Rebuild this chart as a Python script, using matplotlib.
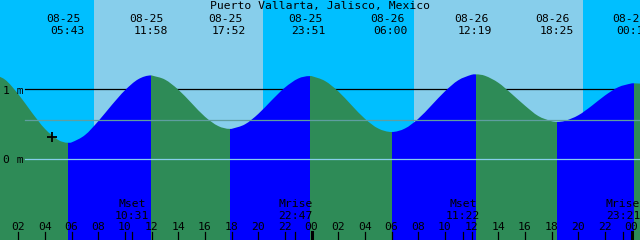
import numpy as np
import matplotlib
matplotlib.use("Agg")
import matplotlib.pyplot as plt
from matplotlib.path import Path
from matplotlib.patches import PathPatch
from matplotlib.transforms import blended_transform_factory

title = "Puerto Vallarta, Jalisco, Mexico"

# water level (m), one value per hour from 08-25 00:00
hours = list(range(0, 50))
heights = [1.22, 1.14, 0.93, 0.67, 0.43, 0.27, 0.235, 0.34, 0.54, 0.77,
           0.985, 1.145, 1.20, 1.14, 0.995, 0.80, 0.605, 0.47, 0.43, 0.495,
           0.645, 0.84, 1.025, 1.155, 1.19, 1.12, 0.97, 0.77, 0.575, 0.435,
           0.385, 0.435, 0.575, 0.77, 0.97, 1.13, 1.21, 1.195, 1.095, 0.935,
           0.765, 0.615, 0.54, 0.545, 0.625, 0.76, 0.91, 1.03, 1.085, 1.075]

# high / low tides shown along the top
tide_dates = ["08-25", "08-25", "08-25", "08-25", "08-26", "08-26", "08-26", "08-27"]
tide_times = ["05:43", "11:58", "17:52", "23:51", "06:00", "12:19", "18:25", "00:13"]
tide_heights = [0.23, 1.20, 0.43, 1.19, 0.385, 1.215, 0.53, 1.086]

# sun and moon
sun_dates = ["08-25", "08-25", "08-26", "08-26"]
sun_times = ["07:41", "20:21", "07:41", "20:21"]
moon_labels = ["Mset", "Mrise", "Mset", "Mrise"]
moon_dates = ["08-25", "08-25", "08-26", "08-26"]
moon_times = ["10:31", "22:47", "11:22", "23:21"]

depth_labels = ["1 m", "0 m"]
depth_levels = [1.0, 0.0]
mean_level = 0.553
now_time, now_height = 4.53, 0.317

NIGHT, DAY = "#00bfff", "#87ceeb"
RISE, FALL = "#0000ff", "#2e8b57"

W, H = 640, 240
PX_PER_H = 40 / 3
T0 = 0.63
Y0, PX_PER_M = 158.7, 69.4


def to_hours(d, t):
    day = int(d.split("-")[1]) - 25
    hh, mm = t.split(":")
    return day * 24 + int(hh) + int(mm) / 60


def t_px(x):
    return T0 + x / PX_PER_H


def fy(y):
    # pixel row -> axes fraction
    return 1 - y / H


tide_h = [to_hours(d, t) for d, t in zip(tide_dates, tide_times)]
sun_h = [to_hours(d, t) for d, t in zip(sun_dates, sun_times)]
moon_h = [to_hours(d, t) for d, t in zip(moon_dates, moon_times)]

# curve points: hourly readings plus the extremes (extremes win on ties)
pts = {}
for x, y in zip(hours, heights):
    pts[round(x, 3)] = (y, False)
for x, y in zip(tide_h, tide_heights):
    pts[round(x, 3)] = (y, True)
cx = sorted(pts)
cy = [pts[x][0] for x in cx]
is_ext = [pts[x][1] for x in cx]


def water_path(xs, ys, ext, bottom):
    # smooth Hermite/Bezier path through the read points, closed at the bottom
    n = len(xs)
    slopes = []
    for i in range(n):
        if ext[i]:
            slopes.append(0.0)
        elif i == 0:
            slopes.append((ys[1] - ys[0]) / (xs[1] - xs[0]))
        elif i == n - 1:
            slopes.append((ys[-1] - ys[-2]) / (xs[-1] - xs[-2]))
        else:
            slopes.append((ys[i + 1] - ys[i - 1]) / (xs[i + 1] - xs[i - 1]))
    verts = [(xs[0], bottom), (xs[0], ys[0])]
    codes = [Path.MOVETO, Path.LINETO]
    for i in range(n - 1):
        dx = (xs[i + 1] - xs[i]) / 3
        verts += [(xs[i] + dx, ys[i] + slopes[i] * dx),
                  (xs[i + 1] - dx, ys[i + 1] - slopes[i + 1] * dx),
                  (xs[i + 1], ys[i + 1])]
        codes += [Path.CURVE4] * 3
    verts += [(xs[-1], bottom), (xs[0], bottom)]
    codes += [Path.LINETO, Path.CLOSEPOLY]
    return Path(verts, codes)


fig = plt.figure(figsize=(W / 100, H / 100), dpi=100)
ax = fig.add_axes([0, 0, 1, 1])
ax.set_axis_off()
xmin, xmax = T0, t_px(W)
ax.set_xlim(xmin, xmax)
ax.set_ylim((Y0 - H) / PX_PER_M, Y0 / PX_PER_M)
bt = blended_transform_factory(ax.transData, ax.transAxes)

# day / night background
edges = [xmin] + sun_h + [xmax]
for i in range(len(edges) - 1):
    ax.axvspan(edges[i], edges[i + 1], color=NIGHT if i % 2 == 0 else DAY,
               lw=0, zorder=0)

# 1 m line sits behind the water
ax.plot([t_px(25), xmax], [1.0, 1.0], color="black", lw=0.9, zorder=1)

# water body, coloured by rising / falling
clip = water_path(cx, cy, is_ext, -5)
ax.add_patch(PathPatch(clip, facecolor="none", edgecolor="none", zorder=2))
bounds = [xmin] + tide_h + [xmax]
for i in range(len(bounds) - 1):
    rising = i < len(tide_heights) and tide_heights[i] > 1.0
    span = ax.axvspan(bounds[i], bounds[i + 1], color=RISE if rising else FALL,
                      lw=0, zorder=2)
    span.set_clip_path(clip, ax.transData)

# datum and mean lines on top
ax.plot([t_px(25), xmax], [mean_level] * 2, color="#5f9ea0", lw=0.9, zorder=3)
ax.plot([t_px(25), xmax], [0.0, 0.0], color="#87ceeb", lw=0.9, zorder=3)

font = dict(family="DejaVu Sans Mono", size=8.2, color="black", zorder=5)

for lab, lev in zip(depth_labels, depth_levels):
    ypx = Y0 - lev * PX_PER_M + 4.2
    ax.text(t_px(23.5), fy(ypx), lab, ha="right", va="baseline",
            transform=bt, **font)

ax.text(0.5, fy(9.3), title, ha="center", va="baseline",
        transform=ax.transAxes, **font)

for d, tm, th in zip(tide_dates, tide_times, tide_h):
    ax.text(th - 4.6 / PX_PER_H, fy(21.7), d, ha="center", va="baseline",
            transform=bt, **font)
    ax.text(th - 0.8 / PX_PER_H, fy(34), tm, ha="center", va="baseline",
            transform=bt, **font)

for lab, tm, mh in zip(moon_labels, moon_times, moon_h):
    ax.text(mh, fy(206.7), lab, ha="center", va="baseline", transform=bt, **font)
    ax.text(mh, fy(219), tm, ha="center", va="baseline", transform=bt, **font)
    ax.plot([mh, mh], [fy(232), fy(240)], color="black", lw=0.9,
            transform=bt, zorder=5)

# hour ticks every two hours
for hr in range(2, 50, 2):
    if hr < xmin or hr > xmax:
        continue
    ax.text(hr, fy(230), "%02d" % (hr % 24), ha="center", va="baseline",
            transform=bt, **font)
    ax.plot([hr, hr], [fy(232), fy(240)], color="black",
            lw=2.2 if hr % 24 == 0 else 0.9, transform=bt, zorder=5)

ax.plot([now_time], [now_height], marker="+", color="black", ms=7, mew=1.3,
        zorder=5)

fig.savefig("out.png", dpi=100)
